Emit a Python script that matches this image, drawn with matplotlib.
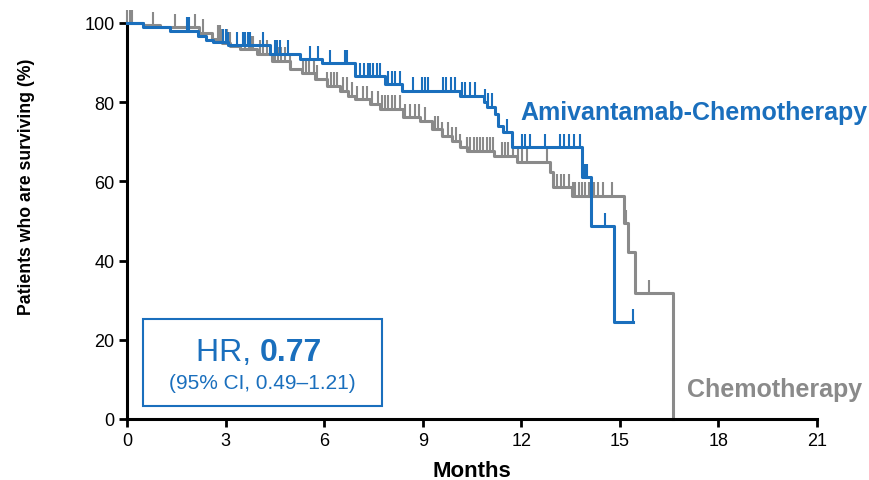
import numpy as np
import matplotlib
matplotlib.use("Agg")
import matplotlib.pyplot as plt
from matplotlib.patches import Rectangle

plt.rcParams['font.family'] = ['Liberation Sans', 'DejaVu Sans']

# Kaplan-Meier steps (months, % surviving after the step)
ami_times = [0, 0.48, 1.31, 2.16, 2.4, 2.62, 3.07, 4.35, 5.26, 5.93, 6.94, 7.85, 8.37,
             10.13, 10.86, 10.96, 11.2, 11.29, 11.44, 11.72, 13.84, 14.12, 14.82]
ami_surv = [100, 99.0, 98.1, 96.8, 95.6, 95.1, 94.4, 92.2, 90.9, 89.8, 86.5, 84.5, 82.9,
            81.6, 80.0, 78.8, 77.0, 74.1, 72.4, 68.6, 61.0, 48.7, 24.4]
ami_end = 15.41
ami_cens = [1.82, 1.89, 2.93, 3.0, 3.07, 3.34, 3.53, 3.6, 3.68, 3.74, 4.15, 4.5, 4.58, 4.66,
            4.9, 5.57, 5.81, 6.18, 6.63, 6.69, 7.09, 7.2, 7.33, 7.4, 7.5, 7.6, 7.7, 7.94,
            8.05, 8.15, 8.3, 8.7, 8.98, 9.07, 9.16, 9.62, 9.72, 9.85, 9.98, 10.2, 10.3,
            10.45, 10.6, 10.9, 11.0, 11.1, 11.56, 12.02, 12.1, 12.26, 12.72, 13.18, 13.3,
            13.45, 13.6, 13.8, 13.94, 14.0, 14.55, 15.41]

chemo_times = [0, 0.49, 1.0, 2.2, 2.6, 2.9, 3.13, 3.44, 3.95, 4.41, 4.96, 5.33, 5.72, 6.09,
               6.48, 6.73, 6.94, 7.4, 7.7, 8.4, 8.92, 9.28, 9.59, 9.89, 10.13, 10.35,
               11.17, 11.87, 12.87, 12.96, 13.54, 15.12, 15.25, 15.45, 16.62]
chemo_surv = [100, 99.5, 98.9, 97.5, 96.0, 95.0, 94.3, 93.4, 92.2, 90.5, 88.4, 87.5, 85.9,
              84.2, 82.9, 81.6, 80.8, 79.5, 78.3, 76.2, 75.3, 73.2, 71.5, 70.3, 68.6, 67.8,
              66.5, 64.8, 62.3, 58.5, 56.4, 49.5, 42.1, 31.8, 0]
chemo_cens = [0.0, 0.08, 0.15, 0.8, 1.46, 2.07, 2.3, 2.77, 2.83, 2.9, 3.04, 3.13, 3.6,
              3.7, 3.78, 3.85, 4.05, 4.15, 4.25, 4.5, 4.6, 4.7, 4.8, 4.96, 5.36, 5.45,
              5.55, 5.68, 5.78, 6.09, 6.2, 6.3, 6.39, 6.57, 6.7, 6.85, 7.0, 7.18, 7.3, 7.46,
              7.64, 7.75, 7.85, 7.95, 8.05, 8.15, 8.3, 8.46, 8.6, 8.75, 8.9, 9.07, 9.37,
              9.48, 9.59, 9.77, 9.9, 10.0, 10.13, 10.35, 10.45, 10.55, 10.65, 10.75, 10.85,
              10.95, 11.05, 11.14, 11.4, 11.5, 11.6, 11.75, 11.9, 12.02, 12.17, 12.78,
              13.0, 13.1, 13.2, 13.3, 13.45, 13.57, 13.63, 13.75, 13.85, 13.95, 14.05,
              14.2, 14.35, 14.5, 14.76, 15.2, 15.9]

blue = '#1a6fbd'
gray = '#8a8a8a'


def surv_at(t, times, surv):
    i = np.searchsorted(times, t, side='right') - 1
    return np.array(surv)[i]


fig = plt.figure(figsize=(8.7, 4.81), dpi=100)
ax = fig.add_axes([127 / 870, 1 - 420 / 481, 690 / 870, 396 / 481])

# chemotherapy
ax.step(chemo_times + [chemo_times[-1]], chemo_surv + [0], where='post',
        color=gray, lw=2.2, clip_on=False, zorder=2)
cs = surv_at(chemo_cens, chemo_times, chemo_surv)
ax.vlines(chemo_cens, cs, cs + 3.4, color=gray, lw=1.5, clip_on=False, zorder=2)

# amivantamab-chemotherapy
ax.step(ami_times + [ami_end], ami_surv + [ami_surv[-1]], where='post',
        color=blue, lw=2.2, clip_on=False, zorder=3)
bs = surv_at(ami_cens, ami_times, ami_surv)
ax.vlines(ami_cens, bs, bs + 3.4, color=blue, lw=1.5, clip_on=False, zorder=3)

ax.set_xlim(0, 21)
ax.set_ylim(0, 100)
ax.set_xticks(range(0, 22, 3))
ax.set_yticks(range(0, 101, 20))
for s in ['top', 'right']:
    ax.spines[s].set_visible(False)
for s in ['left', 'bottom']:
    ax.spines[s].set_linewidth(2.2)
ax.tick_params(direction='out', length=6, width=2, labelsize=13, pad=3)

ax.set_xlabel('Months', fontsize=16, fontweight='bold', labelpad=8)
ax.set_ylabel('Patients who are surviving (%)', fontsize=12.7, fontweight='bold')
ax.yaxis.set_label_coords(-0.133, 0.59)

ax.text(11.96, 77.5, 'Amivantamab-Chemotherapy', color=blue, fontsize=18,
        fontweight='bold', va='center', ha='left')
ax.text(17.04, 7.6, 'Chemotherapy', color=gray, fontsize=18,
        fontweight='bold', va='center', ha='left')

ax.add_patch(Rectangle((0.49, 3.3), 7.27, 22.0, fill=False, edgecolor=blue, lw=1.5,
                       zorder=4))
ax.text(4.05, 17.0, 'HR, ', color=blue, fontsize=23, ha='right', va='center')
ax.text(4.05, 17.0, '0.77', color=blue, fontsize=23, fontweight='bold',
        ha='left', va='center')
ax.text(4.12, 9.3, '(95% CI, 0.49\u20131.21)', color=blue, fontsize=15,
        ha='center', va='center')

fig.savefig('out.png', dpi=100)
